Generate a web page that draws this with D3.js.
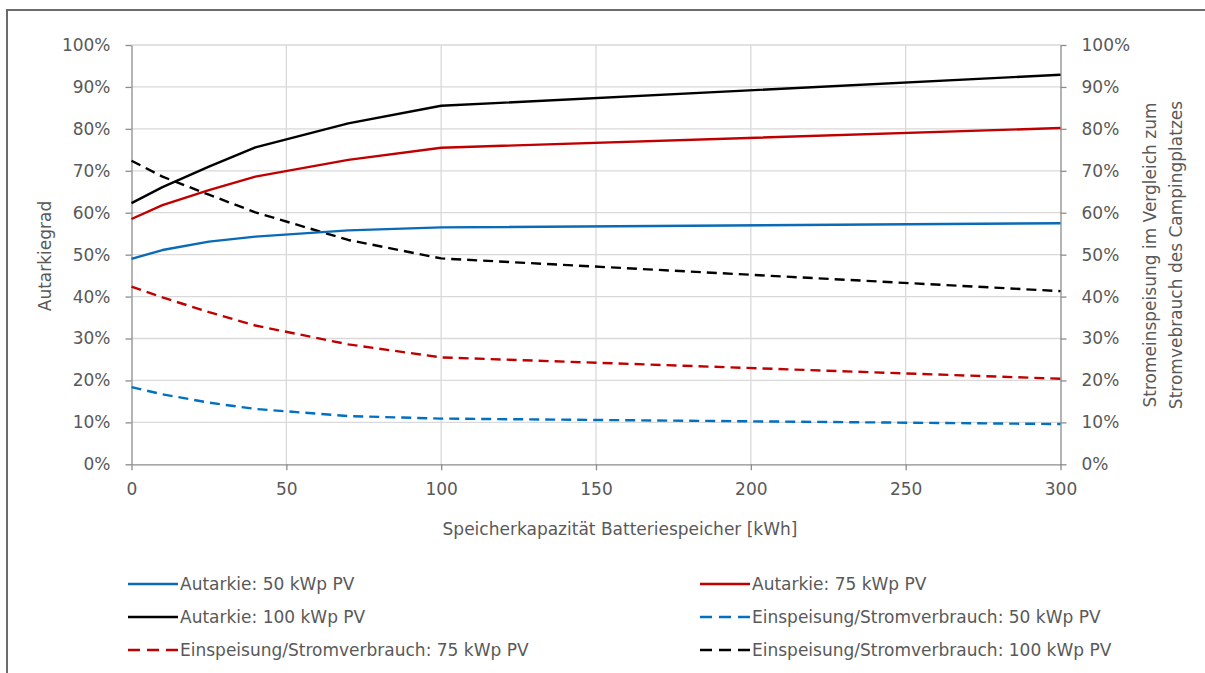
<!DOCTYPE html>
<html>
<head>
<meta charset="utf-8">
<script src="https://cdn.jsdelivr.net/npm/d3@7"></script>
<style>
  html, body { margin: 0; padding: 0; background: #fff; }
  svg { display: block; }
  text { font-family: "DejaVu Sans", sans-serif; fill: #595959; }
</style>
</head>
<body>
<svg id="chart" width="1205" height="673"></svg>
<script>
// Battery storage capacity in kWh
const capacity = [0, 10, 25, 40, 70, 100, 300];

// Self-sufficiency (%) per PV size
const autarkie50  = [49.0, 51.1, 53.1, 54.3, 55.8, 56.5, 57.5];
const autarkie75  = [58.5, 61.8, 65.4, 68.6, 72.6, 75.5, 80.2];
const autarkie100 = [62.3, 66.1, 71.0, 75.6, 81.3, 85.5, 92.9];

// Grid feed-in relative to consumption (%) per PV size
const einspeisung50  = [18.4, 16.7, 14.7, 13.2, 11.5, 10.9, 9.6];
const einspeisung75  = [42.4, 39.8, 36.3, 33.1, 28.6, 25.5, 20.4];
const einspeisung100 = [72.4, 68.6, 64.3, 60.1, 53.5, 49.1, 41.3];

const xTicks = [0, 50, 100, 150, 200, 250, 300];
const yTicks = [0, 10, 20, 30, 40, 50, 60, 70, 80, 90, 100];

const series = [
  { name: "Autarkie: 50 kWp PV", values: autarkie50, color: "#0a6ab6", dashed: false },
  { name: "Autarkie: 75 kWp PV", values: autarkie75, color: "#c00000", dashed: false },
  { name: "Autarkie: 100 kWp PV", values: autarkie100, color: "#000000", dashed: false },
  { name: "Einspeisung/Stromverbrauch: 50 kWp PV", values: einspeisung50, color: "#0070c0", dashed: true },
  { name: "Einspeisung/Stromverbrauch: 75 kWp PV", values: einspeisung75, color: "#c00000", dashed: true },
  { name: "Einspeisung/Stromverbrauch: 100 kWp PV", values: einspeisung100, color: "#000000", dashed: true }
];

const FONT = "17px";
const svg = d3.select("#chart");

// Outer chart frame
svg.append("rect")
  .attr("x", 7).attr("y", 10)
  .attr("width", 1300).attr("height", 800)
  .attr("fill", "none").attr("stroke", "#6b6b6b").attr("stroke-width", 2);

const plotLeft = 131.5, plotRight = 1060.5, plotTop = 45, plotBottom = 464.3;
const x = d3.scaleLinear().domain([0, 300]).range([plotLeft, plotRight]);
const y = d3.scaleLinear().domain([0, 100]).range([plotBottom, plotTop]);

// Gridlines
const grid = svg.append("g");
grid.selectAll(".hg").data(yTicks.slice(1)).join("line")
  .attr("x1", plotLeft).attr("x2", plotRight)
  .attr("y1", d => y(d)).attr("y2", d => y(d))
  .attr("stroke", "#d9d9d9").attr("stroke-width", 1.3);
grid.selectAll(".vg").data(xTicks.slice(1, -1)).join("line")
  .attr("y1", plotTop).attr("y2", plotBottom)
  .attr("x1", d => x(d)).attr("x2", d => x(d))
  .attr("stroke", "#d9d9d9").attr("stroke-width", 1.3);

const fmtPct = d => d + "%";

function styleAxis(g) {
  g.selectAll(".domain").attr("stroke", "#8c8c8c").attr("stroke-width", 1.3);
  g.selectAll(".tick line").attr("stroke", "#8c8c8c").attr("stroke-width", 1.3);
  g.selectAll(".tick text").attr("fill", "#595959")
    .style("font-family", "'DejaVu Sans', sans-serif").style("font-size", FONT);
}

svg.append("g").attr("transform", `translate(${plotLeft},0)`)
  .call(d3.axisLeft(y).tickValues(yTicks).tickFormat(fmtPct).tickSize(6).tickSizeOuter(0).tickPadding(15))
  .call(styleAxis);

svg.append("g").attr("transform", `translate(${plotRight},0)`)
  .call(d3.axisRight(y).tickValues(yTicks).tickFormat(fmtPct).tickSize(6).tickSizeOuter(0).tickPadding(15))
  .call(styleAxis);

svg.append("g").attr("transform", `translate(0,${plotBottom})`)
  .call(d3.axisBottom(x).tickValues(xTicks).tickSize(6).tickSizeOuter(0).tickPadding(13))
  .call(styleAxis);

// Series lines
const line = d3.line().x((d, i) => x(capacity[i])).y(d => y(d));
svg.append("g").selectAll("path").data(series.slice().reverse()).join("path")
  .attr("d", d => line(d.values))
  .attr("fill", "none")
  .attr("stroke", d => d.color)
  .attr("stroke-width", 2.4)
  .attr("stroke-linejoin", "round")
  .attr("stroke-dasharray", d => d.dashed ? "10,6" : null);

// Axis titles
svg.append("text")
  .attr("transform", "translate(45,256) rotate(-90)")
  .attr("text-anchor", "middle").attr("dominant-baseline", "central")
  .style("font-size", FONT).text("Autarkiegrad");

svg.append("text")
  .attr("x", 620).attr("y", 529)
  .attr("text-anchor", "middle").attr("dominant-baseline", "central")
  .style("font-size", FONT).text("Speicherkapazität Batteriespeicher [kWh]");

const rightTitle = ["Stromeinspeisung im Vergleich zum", "Stromvebrauch des Campingplatzes"];
svg.selectAll(".rt").data(rightTitle).join("text")
  .attr("transform", (d, i) => `translate(${1150 + i * 26},255) rotate(-90)`)
  .attr("text-anchor", "middle").attr("dominant-baseline", "central")
  .style("font-size", FONT).text(d => d);

// Legend: two columns, three rows
const legend = svg.append("g");
const item = legend.selectAll("g").data(series).join("g")
  .attr("transform", (d, i) => `translate(${i % 2 === 0 ? 128 : 700},${584 + Math.floor(i / 2) * 33})`);
item.append("line")
  .attr("x1", 0).attr("x2", 50).attr("y1", 0).attr("y2", 0)
  .attr("stroke", d => d.color).attr("stroke-width", 2.4)
  .attr("stroke-dasharray", d => d.dashed ? "12,7" : null);
item.append("text")
  .attr("x", 52).attr("y", 0).attr("dominant-baseline", "central")
  .style("font-size", FONT).text(d => d.name);
</script>
</body>
</html>
